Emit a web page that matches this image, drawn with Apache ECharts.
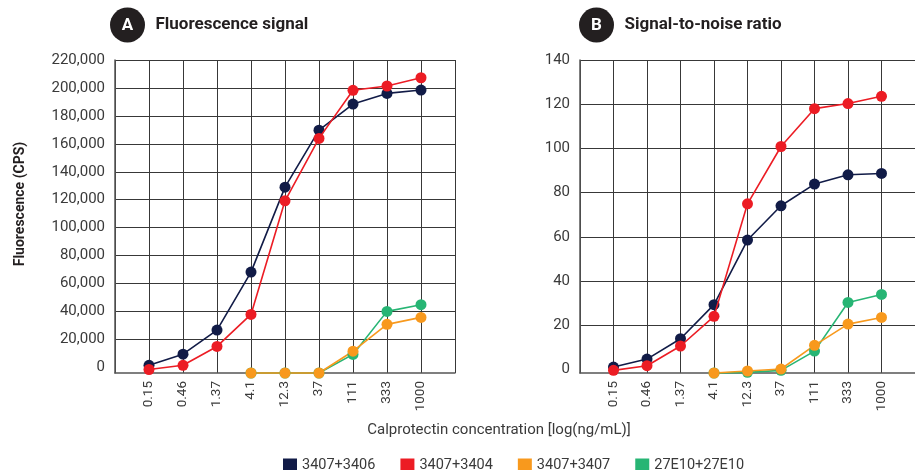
<!DOCTYPE html>
<html>
<head>
<meta charset="utf-8">
<script src="https://cdn.jsdelivr.net/npm/echarts@6/dist/echarts.min.js"></script>
<style>
    html, body { margin: 0; padding: 0; background: #fff; }
    #main { width: 915px; height: 470px; }
</style>
</head>
<body>
<div id="main"></div>
<script>
var concentrations = ['0.15', '0.46', '1.37', '4.1', '12.3', '37', '111', '333', '1000'];
var seriesNames = ['3407+3406', '3407+3404', '3407+3407', '27E10+27E10'];
var seriesColors = ['#111b47', '#ec1c24', '#f8991d', '#27b574'];

// A - Fluorescence signal (CPS)
var fluor3406 = [1500, 9500, 26700, 68200, 129000, 169800, 188500, 196100, 198500];
var fluor3404 = [-1500, 1500, 15000, 37900, 119200, 163900, 198300, 201400, 207300];
var fluor3407 = [null, null, null, -4000, -4000, -4000, 11600, 30800, 35800];
var fluor27E10 = [null, null, null, -4000, -4000, -4000, 9300, 40100, 44900];

// B - Signal-to-noise ratio
var snr3406 = [1.2, 4.8, 14.0, 29.4, 58.6, 74.1, 83.9, 88.1, 88.7];
var snr3404 = [-0.3, 1.8, 10.7, 24.1, 75.0, 100.9, 118.0, 120.3, 123.6];
var snr3407 = [null, null, null, -1.5, -0.6, 0.3, 11.0, 20.6, 23.6];
var snr27E10 = [null, null, null, -1.5, -1.2, -0.3, 8.4, 30.4, 34.0];

var fluorTicks = [0, 20000, 40000, 60000, 80000, 100000, 120000, 140000, 160000, 180000, 200000, 220000];
var snrTicks = [0, 20, 40, 60, 80, 100, 120, 140];

var font = 'Roboto, "Noto Sans", sans-serif';
var textColor = '#3a3a3a';
var gridColor = '#383838';

// empty slot at each end so the grid has a blank column left and right
var xCats = [''].concat(concentrations, ['']);
function pad(arr) {
    return [null].concat(arr, [null]);
}

function makeX(gridIndex) {
    return {
        type: 'category',
        gridIndex: gridIndex,
        data: xCats,
        boundaryGap: false,
        axisLine: {onZero: false, lineStyle: {color: '#555', width: 1.5}},
        axisTick: {show: false},
        axisLabel: {
            interval: 0, rotate: 90, margin: 8,
            color: textColor, fontFamily: font, fontSize: 13.5
        },
        splitLine: {show: true, lineStyle: {color: gridColor, width: 1}}
    };
}

function makeY(gridIndex, min, max, ticks, fmt) {
    return {
        type: 'value',
        gridIndex: gridIndex,
        min: min,
        max: max,
        axisLine: {show: true, lineStyle: {color: '#555', width: 1.5}},
        axisTick: {show: false, customValues: ticks.slice(1)},
        axisLabel: {
            customValues: ticks, margin: 10,
            color: textColor, fontFamily: font, fontSize: 15,
            formatter: fmt
        },
        splitLine: {show: true, lineStyle: {color: gridColor, width: 1}}
    };
}

function makeLine(name, idx, data, color, z) {
    return {
        name: name,
        type: 'line',
        xAxisIndex: idx,
        yAxisIndex: idx,
        data: pad(data),
        symbol: 'circle',
        symbolSize: 11,
        z: z,
        clip: false,
        itemStyle: {color: color},
        lineStyle: {color: color, width: 1.6}
    };
}

function badge(x, letter, title) {
    return [
        {type: 'circle', shape: {cx: x, cy: 25, r: 17.5}, style: {fill: '#231f20'}},
        {type: 'text', x: x, y: 26, style: {
            text: letter, fill: '#fff', font: 'bold 17px ' + font,
            textAlign: 'center', textVerticalAlign: 'middle'
        }},
        {type: 'text', x: x + 28, y: 25, style: {
            text: title, fill: '#231f20', font: 'bold 17px ' + font,
            textAlign: 'left', textVerticalAlign: 'middle'
        }}
    ];
}

var option = {
    animation: false,
    backgroundColor: '#fff',
    grid: [
        {left: 115, top: 60, width: 340, height: 313},
        {left: 580, top: 60, width: 340, height: 313}
    ],
    legend: {
        data: seriesNames,
        left: 278,
        top: 453,
        icon: 'rect',
        itemWidth: 14,
        itemHeight: 14,
        itemGap: 25,
        textStyle: {color: textColor, fontFamily: font, fontSize: 14.5}
    },
    xAxis: [makeX(0), makeX(1)],
    yAxis: [
        makeY(0, -4000, 220000, fluorTicks, function (v) { return v.toLocaleString('en-US'); }),
        makeY(1, -1.5, 140, snrTicks, null)
    ],
    graphic: badge(127.5, 'A', 'Fluorescence signal').concat(
        badge(596.5, 'B', 'Signal-to-noise ratio'),
        [
            {type: 'text', x: 499, y: 430, style: {
                text: 'Calprotectin concentration [log(ng/mL)]', fill: textColor,
                font: '15px ' + font, textAlign: 'center', textVerticalAlign: 'middle'
            }},
            {type: 'text', x: 20, y: 204, rotation: Math.PI / 2, style: {
                text: 'Fluorescence (CPS)', fill: '#231f20',
                font: 'bold 14px ' + font, textAlign: 'center', textVerticalAlign: 'middle'
            }}
        ]
    ),
    series: [
        makeLine(seriesNames[0], 0, fluor3406, seriesColors[0], 3),
        makeLine(seriesNames[1], 0, fluor3404, seriesColors[1], 4),
        makeLine(seriesNames[3], 0, fluor27E10, seriesColors[3], 2),
        makeLine(seriesNames[2], 0, fluor3407, seriesColors[2], 2),
        makeLine(seriesNames[0], 1, snr3406, seriesColors[0], 3),
        makeLine(seriesNames[1], 1, snr3404, seriesColors[1], 4),
        makeLine(seriesNames[3], 1, snr27E10, seriesColors[3], 2),
        makeLine(seriesNames[2], 1, snr3407, seriesColors[2], 2)
    ]
};

var myChart = echarts.init(document.getElementById('main'));
myChart.setOption(option);
</script>
</body>
</html>
